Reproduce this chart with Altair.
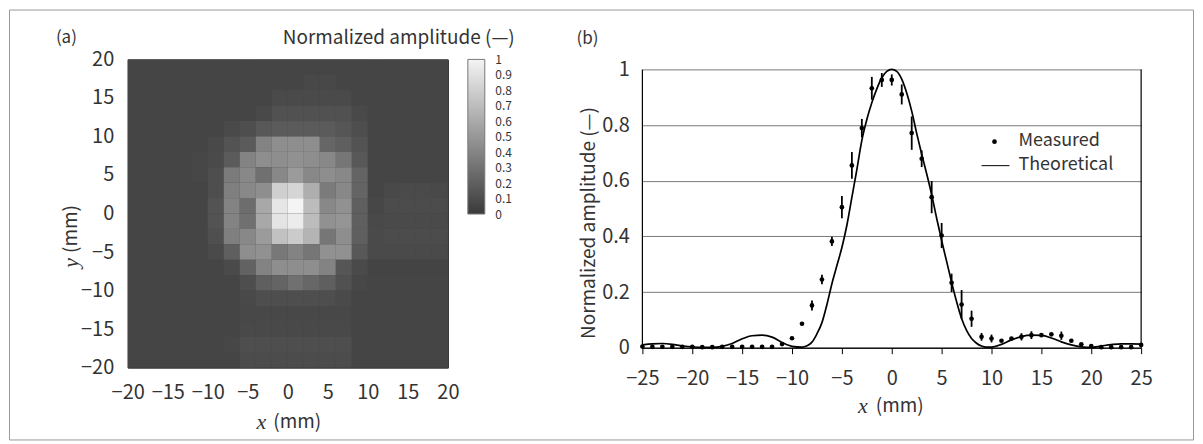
import altair as alt
import pandas as pd

FONT = "Noto Sans CJK JP"
SERIF = "Liberation Serif"
TXT = "#333333"

# ---------------- panel (a): 2 mm cells, rows from top (y=20) to bottom
cell_left_edges = [-20, -18, -16, -14, -12, -10, -8, -6, -4, -2, 0, 2, 4, 6, 8, 10, 12, 14, 16, 18]
cell_top_edges = [20, 18, 16, 14, 12, 10, 8, 6, 4, 2, 0, -2, -4, -6, -8, -10, -12, -14, -16, -18]
amp_grid = [
    [.065, .065, .065, .065, .065, .065, .065, .065, .065, .065, .065, .065, .065, .065, .065, .065, .065, .065, .065, .065],
    [.065, .065, .065, .065, .065, .065, .065, .065, .065, .065, .065, .085, .085, .065, .065, .065, .065, .065, .065, .065],
    [.065, .065, .065, .065, .065, .065, .065, .065, .065, .10, .10, .10, .10, .10, .065, .065, .065, .065, .065, .065],
    [.065, .065, .065, .065, .065, .065, .065, .065, .09, .14, .14, .14, .14, .14, .09, .065, .065, .065, .065, .065],
    [.065, .065, .065, .065, .065, .065, .10, .12, .18, .20, .20, .20, .20, .17, .12, .065, .065, .065, .065, .065],
    [.065, .065, .065, .065, .065, .09, .15, .20, .42, .48, .48, .48, .26, .22, .15, .07, .065, .065, .065, .065],
    [.065, .065, .065, .065, .08, .10, .20, .42, .48, .48, .50, .48, .45, .35, .18, .07, .065, .065, .065, .065],
    [.065, .065, .065, .065, .08, .12, .38, .45, .32, .45, .55, .45, .48, .45, .25, .07, .07, .07, .07, .07],
    [.065, .065, .065, .065, .07, .12, .40, .45, .48, .82, .85, .65, .38, .45, .25, .07, .09, .10, .10, .09],
    [.065, .065, .065, .065, .07, .15, .42, .30, .62, .93, 1.0, .72, .45, .50, .22, .08, .11, .11, .11, .11],
    [.065, .065, .065, .065, .07, .15, .42, .32, .62, .92, .96, .72, .50, .52, .22, .09, .10, .10, .10, .10],
    [.065, .065, .065, .065, .07, .13, .40, .45, .55, .75, .80, .68, .35, .48, .22, .10, .11, .11, .11, .11],
    [.065, .065, .065, .065, .065, .10, .22, .48, .50, .36, .42, .35, .50, .50, .18, .10, .10, .10, .10, .10],
    [.065, .065, .065, .065, .065, .07, .10, .24, .42, .48, .48, .48, .42, .17, .10, .06, .06, .06, .06, .06],
    [.065, .065, .065, .065, .065, .065, .07, .12, .22, .25, .32, .27, .22, .14, .08, .065, .065, .065, .065, .065],
    [.065, .065, .065, .065, .065, .065, .065, .09, .12, .12, .12, .12, .12, .10, .065, .065, .065, .065, .065, .065],
    [.065, .065, .065, .065, .065, .065, .065, .085, .085, .085, .085, .085, .085, .085, .065, .065, .065, .065, .065, .065],
    [.065, .065, .065, .065, .065, .065, .065, .095, .095, .095, .095, .095, .095, .095, .065, .065, .065, .065, .065, .065],
    [.065, .065, .065, .065, .065, .065, .08, .12, .12, .12, .12, .12, .12, .12, .065, .065, .065, .065, .065, .065],
    [.065, .065, .065, .065, .065, .065, .065, .11, .11, .11, .11, .11, .11, .11, .065, .065, .065, .065, .065, .065],
]
heat_ticks = [-20, -15, -10, -5, 0, 5, 10, 15, 20]
cbar_ticks = [0, 0.1, 0.2, 0.3, 0.4, 0.5, 0.6, 0.7, 0.8, 0.9, 1]
gray_range = ["#3a3a3a", "#f4f4f4"]

# ---------------- panel (b)
meas_x = list(range(-25, 26))
meas_y = [0.004, 0.003, 0.003, 0.003, 0.003, 0.003, 0.002, 0.002, 0.003, 0.003, 0.003, 0.003, 0.003, 0.003,
          0.013, 0.034, 0.086, 0.152, 0.245, 0.382, 0.505, 0.655, 0.789, 0.932, 0.962, 0.962, 0.910, 0.771,
          0.679, 0.541, 0.403, 0.233, 0.155, 0.104, 0.039, 0.033, 0.025, 0.033, 0.039, 0.045, 0.045, 0.048,
          0.043, 0.025, 0.012, 0.006, 0.002, 0.002, 0.002, 0.002, 0.010]
meas_err = [0, 0, 0, 0, 0, 0, 0, 0, 0, 0, 0, 0, 0, 0, 0, 0, 0,
            0.018, 0.017, 0.017, 0.040, 0.048, 0.033, 0.041, 0.025, 0.020, 0.036, 0.060, 0.030, 0.058,
            0.045, 0.033, 0.052, 0.029, 0.014, 0.014, 0, 0, 0.013, 0.014, 0, 0, 0.015,
            0, 0, 0, 0, 0, 0, 0, 0]
theo_x = [-25, -24, -23, -22, -21, -20, -19, -18, -17, -16, -15, -14, -13, -12, -11, -10, -9,
          -8.5, -8, -7.5, -7, -6.5, -6, -5.5, -5, -4.5, -4, -3.5, -3, -2.5, -2, -1.5, -1, -0.5, 0,
          0.5, 1, 1.5, 2, 2.5, 3, 3.5, 4, 4.5, 5, 5.5, 6, 6.5, 7, 7.5, 8, 8.5, 9, 9.5,
          10, 11, 12, 13, 14, 15, 16, 17, 18, 19, 20, 21, 22, 23, 24, 25]
theo_y = [0.010, 0.014, 0.015, 0.012, 0.006, 0.003, 0.001, 0.001, 0.005, 0.015, 0.032, 0.043, 0.045, 0.038, 0.019, 0.005, 0.002,
          0.007, 0.02, 0.05, 0.09, 0.155, 0.23, 0.295, 0.36, 0.44, 0.54, 0.64, 0.745, 0.82, 0.88, 0.93, 0.97, 0.993, 1.0,
          0.993, 0.965, 0.915, 0.85, 0.77, 0.695, 0.625, 0.55, 0.465, 0.385, 0.31, 0.235, 0.165, 0.105, 0.062, 0.033, 0.016, 0.006, 0.002,
          0.002, 0.012, 0.028, 0.040, 0.045, 0.044, 0.035, 0.021, 0.010, 0.003, 0.001, 0.006, 0.011, 0.014, 0.014, 0.013]
b_x_ticks = [-25, -20, -15, -10, -5, 0, 5, 10, 15, 20, 25]
b_y_ticks = [0, 0.2, 0.4, 0.6, 0.8, 1]
legend_labels = ["Measured", "Theoretical"]
amp_title = "Normalized amplitude (\u2014)"

# ---------------- tables
heat_rows = []
for r, top in enumerate(cell_top_edges):
    for c, left in enumerate(cell_left_edges):
        heat_rows.append({"x0": left, "x1": left + 2, "y0": top - 2, "y1": top, "amp": amp_grid[r][c]})
heat_df = pd.DataFrame(heat_rows)

meas_df = pd.DataFrame({"x": meas_x, "y": meas_y, "err": meas_err})
meas_df["lo"] = meas_df["y"] - meas_df["err"]
meas_df["hi"] = meas_df["y"] + meas_df["err"]
err_df = meas_df[meas_df["err"] > 0]
theo_df = pd.DataFrame({"x": theo_x, "y": theo_y})
frame_df = pd.DataFrame({"x": [b_x_ticks[0], b_x_ticks[-1]], "y": [0, 0], "y1": [1, 1]})
cbar_df = pd.DataFrame({"lo": [cbar_ticks[0]], "hi": [cbar_ticks[-1]]})


def label(text, x, y, size=19, align="left", angle=0, font=FONT, style="normal"):
    return alt.Chart(pd.DataFrame({"t": [text]})).mark_text(
        align=align, baseline="middle", fontSize=size, font=font, fontStyle=style,
        color=TXT, angle=angle
    ).encode(x=alt.value(x), y=alt.value(y), text="t:N")


# ---------------- panel (a) chart
cscale = alt.Scale(domain=[0, 1], range=gray_range)
hx = alt.Scale(domain=[-20, 20], nice=False, zero=False)
hy = alt.Scale(domain=[-20, 20], nice=False, zero=False)
heat = alt.Chart(heat_df).mark_rect(strokeWidth=0).encode(
    x=alt.X("x0:Q", scale=hx, axis=alt.Axis(values=heat_ticks, title=None, grid=False, ticks=False,
                                            domain=False, labelPadding=15, labelFontSize=20, labelFont=FONT,
                                            labelColor=TXT, labelFlush=False, labelOverlap=False)),
    x2="x1:Q",
    y=alt.Y("y0:Q", scale=hy, axis=alt.Axis(values=heat_ticks, title=None, grid=False, ticks=False,
                                            domain=False, labelPadding=14, labelFontSize=20, labelFont=FONT,
                                            labelColor=TXT, labelFlush=False, labelOverlap=False)),
    y2="y1:Q",
    color=alt.Color("amp:Q", scale=cscale, legend=None),
)

border = alt.Chart(pd.DataFrame({"k": [0]})).mark_rect(filled=False, stroke="#9a9a9a", strokeWidth=1).encode(
    x=alt.value(-118.5), x2=alt.value(1068.5), y=alt.value(-49.5), y2=alt.value(381.5)
)

left = alt.layer(
    heat,
    border,
    label("(a)", -72, -21, size=17),
    label(amp_title, 388, -21, size=19, align="right"),
    label("(mm)", -57, 170, size=19, align="center", angle=270),
    label("y", -57, 204, size=22, align="center", angle=270, font=SERIF, style="italic"),
    label("x", 134, 364, size=22, align="center", font=SERIF, style="italic"),
    label("(mm)", 146, 364, size=19),
).properties(width=321, height=309,
             view=alt.ViewBackground(stroke="#2a2a2a", strokeWidth=1, fill="#454749"))

# ---------------- colour bar (own panel)
grad = alt.LinearGradient(
    gradient="linear",
    stops=[alt.GradientStop(color=gray_range[0], offset=0), alt.GradientStop(color=gray_range[1], offset=1)],
    x1=0, x2=0, y1=1, y2=0,
)
cbar = alt.Chart(cbar_df).mark_rect(color=grad, stroke="#777777", strokeWidth=1).encode(
    x=alt.value(0), x2=alt.value(17),
    y=alt.Y("lo:Q", scale=alt.Scale(domain=[0, 1], nice=False, zero=False),
            axis=alt.Axis(orient="right", offset=-138, values=cbar_ticks, format=".1~f", title=None,
                          ticks=False, domain=False, grid=False, labelPadding=10, labelFontSize=12,
                          labelFont=FONT, labelColor=TXT, labelFlush=False, labelOverlap=False)),
    y2="hi:Q",
).properties(width=155, height=155, view=alt.ViewBackground(strokeOpacity=0))

# ---------------- panel (b) chart
bx = alt.Scale(domain=[-25, 25], nice=False, zero=False)
by = alt.Scale(domain=[0, 1.0358], nice=False, zero=False)
bx_axis = alt.Axis(values=b_x_ticks, title=None, grid=False, domainColor="black", tickColor="black",
                   tickSize=6, labelPadding=15, labelFontSize=20, labelFont=FONT, labelColor=TXT,
                   labelFlush=False, labelOverlap=False)
by_axis = alt.Axis(values=b_y_ticks, title=None, grid=True,
                   gridColor={"condition": {"test": "datum.value === 0", "value": "black"}, "value": "#7a7a7a"},
                   domain=False, ticks=False, labelPadding=13, labelFontSize=20, labelFont=FONT,
                   labelColor=TXT, format="~g", labelOverlap=False)

theo = alt.Chart(theo_df).mark_line(color="black", strokeWidth=1.7, interpolate="monotone").encode(
    x=alt.X("x:Q", scale=bx, axis=bx_axis),
    y=alt.Y("y:Q", scale=by, axis=by_axis),
)
frame = alt.Chart(frame_df).mark_rule(color="black", strokeWidth=1.2).encode(
    x=alt.X("x:Q", scale=bx, axis=bx_axis), y=alt.Y("y:Q", scale=by, axis=by_axis), y2="y1:Q"
)
bars = alt.Chart(err_df).mark_rule(color="black", strokeWidth=1.8).encode(
    x=alt.X("x:Q", scale=bx, axis=bx_axis), y=alt.Y("lo:Q", scale=by, axis=by_axis), y2="hi:Q"
)
pts = alt.Chart(meas_df).mark_circle(color="black", size=22, opacity=1).encode(
    x=alt.X("x:Q", scale=bx, axis=bx_axis), y=alt.Y("y:Q", scale=by, axis=by_axis)
)
leg_dot = alt.Chart(pd.DataFrame({"k": [0]})).mark_circle(color="black", size=22, opacity=1).encode(
    x=alt.value(353), y=alt.value(82.5)
)
leg_line = alt.Chart(pd.DataFrame({"k": [0]})).mark_rule(color="black", strokeWidth=1).encode(
    x=alt.value(340), x2=alt.value(368), y=alt.value(106.5)
)

right = alt.layer(
    theo, frame, bars, pts, leg_dot, leg_line,
    label(legend_labels[0], 377, 81.5, size=18),
    label(legend_labels[1], 377, 106, size=18),
    label("(b)", -66, -20, size=17),
    label(amp_title, -54, 164, size=19, align="center", angle=270),
    label("x", 221, 347, size=22, align="center", font=SERIF, style="italic"),
    label("(mm)", 234, 347, size=19),
).properties(width=500, height=289, view=alt.ViewBackground(strokeOpacity=0))

chart = alt.hconcat(left, cbar, right, spacing=20, bounds="flush").properties(
    padding=0, background="white"
).resolve_scale(color="independent", y="independent")

chart.save("out.html", embed_options={"renderer": "svg", "actions": False})
